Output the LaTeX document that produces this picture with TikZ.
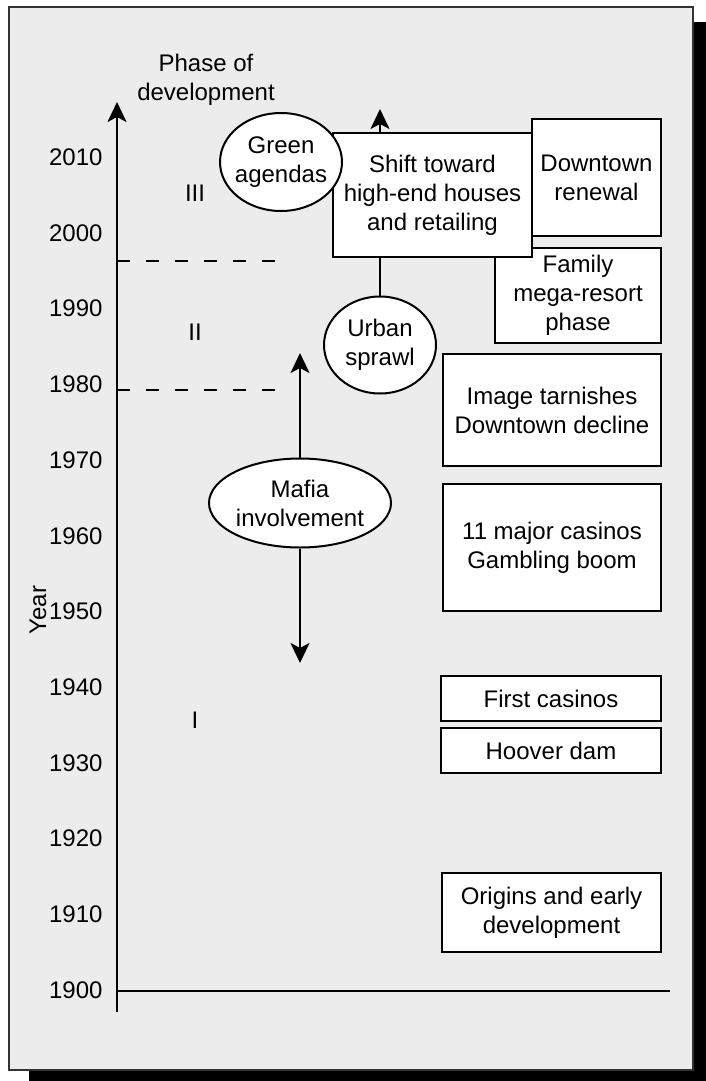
\documentclass[tikz,border=0pt]{standalone}
\usepackage{fontspec}
\setmainfont{Liberation Sans}
\usetikzlibrary{arrows.meta,shapes.geometric}
\definecolor{panelgray}{RGB}{236,236,236}

\begin{document}
\begin{tikzpicture}[x=1pt,y=-1pt,
  lbl/.style={font=\fontsize{24}{29}\selectfont,align=center},
  evbox/.style={lbl,draw,line width=2.2pt,fill=white,inner sep=0pt},
  evoval/.style={lbl,draw,ellipse,line width=2pt,fill=white,inner sep=-4pt},
  arr/.style={line width=2.4pt,-{Stealth[length=20pt,width=19pt,inset=5pt]}},
  divider/.style={line width=2.2pt,dash pattern=on 13pt off 16pt}]
\useasboundingbox (0,0) rectangle (706,1081);
\fill (29,22) rectangle (706,1081);
\draw[fill=panelgray,draw=black!80,line width=1.5pt] (9,7) rectangle (693,1070);

% axes
\coordinate (origin) at (117,991);
\coordinate (ybot) at (117,1012);
\coordinate (ytip) at (117,102);
\coordinate (xend) at (670,991);
\draw[arr] (ybot) -- (ytip);
\draw[line width=2.4pt] (origin) -- (xend);
\foreach \k in {0,...,11} {\pgfmathtruncatemacro\yr{1900+10*\k}
  \node[lbl,anchor=east] (y\yr) at (106,990-75.7*\k) {\yr};}
\node[lbl,rotate=90] (yearlbl) at (38,610) {Year};
\node[lbl] (phase) at (206,80) {Phase of\\development};
\foreach \t/\y in {III/193,II/332,I/720} \node[lbl] (ph\t) at (195,\y) {\t};
\foreach \y in {261,390} \draw[divider] (117,\y) -- (280,\y);

% events
\node[evbox,minimum width=129,minimum height=117] (renewal) at (596.5,177.5) {Downtown\\renewal};
\node[evbox,minimum width=166,minimum height=95] (resort) at (578,295.5) {Family\\mega-resort\\phase};
\node[evbox,minimum width=199,minimum height=124] (shift) at (432.5,195) {Shift toward\\high-end houses\\and retailing};
\node[evbox,minimum width=218,minimum height=112] (tarnish) at (552,410) {Image tarnishes\\Downtown decline};
\node[evbox,minimum width=218,minimum height=127] (boom) at (552,547.5) {11 major casinos\\Gambling boom};
\node[evbox,minimum width=220,minimum height=45] (firstcas) at (551,698.5) {First casinos};
\node[evbox,minimum width=220,minimum height=45] (hoover) at (551,750.5) {Hoover dam};
\node[evbox,minimum width=219,minimum height=79] (origins) at (551.5,912.5) {Origins and early\\development};

\node[evoval,minimum width=122,minimum height=98] (green) at (281,162) {Green\\agendas};
\node[evoval,minimum width=112,minimum height=97] (sprawl) at (380,345) {Urban\\sprawl};
\node[evoval,minimum width=182,minimum height=89] (mafia) at (300,503) {Mafia\\involvement};

\coordinate (shifttip) at (380,109);
\coordinate (mafiaup) at (300,353);
\coordinate (mafiadown) at (300,663);
\draw[arr] (shifttip |- shift.north) -- (shifttip);
\draw[line width=2.2pt] (sprawl.north) -- (sprawl.north |- shift.south);
\draw[arr] (mafia.north) -- (mafiaup);
\draw[arr] (mafia.south) -- (mafiadown);
\end{tikzpicture}
\end{document}
